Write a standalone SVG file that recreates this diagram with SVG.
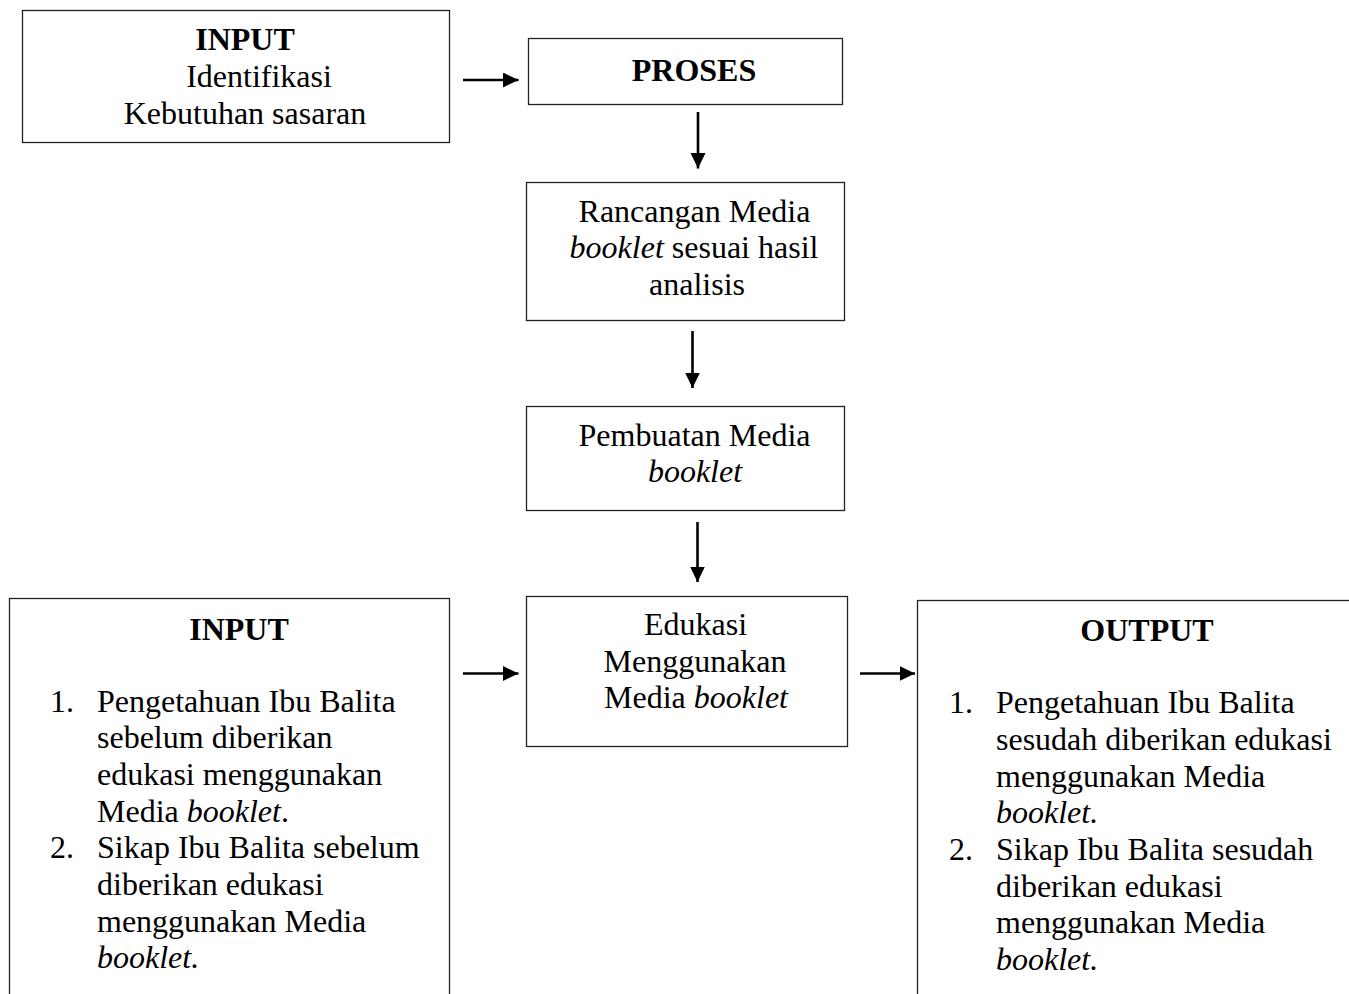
<svg xmlns="http://www.w3.org/2000/svg" width="1349" height="994" viewBox="0 0 1349 994">
<style>
.box{fill:#fff;stroke:#222;stroke-width:1.3}
.t{font-family:"Liberation Serif","Times New Roman",serif;font-size:32px;fill:#000}
.c{text-anchor:middle}
.b{font-weight:bold}
.i{font-style:italic}
.conn line{stroke:#000;stroke-width:2.6}
</style>
<defs>
<marker id="ah" markerUnits="userSpaceOnUse" markerWidth="17" markerHeight="16" refX="15.5" refY="7.5" orient="auto">
<path d="M0,0 L15.5,7.5 L0,15 z" fill="#000"/>
</marker>
</defs>
<rect width="1349" height="994" fill="#fff"/>
<g id="input-top">
<rect class="box" x="22.5" y="10.5" width="427" height="132"/>
<text class="t c b" x="245" y="50">INPUT</text>
<text class="t c" x="259" y="87">Identifikasi</text>
<text class="t c" x="245" y="124">Kebutuhan sasaran</text>
</g>
<g id="proses">
<rect class="box" x="528.5" y="38.5" width="314" height="66"/>
<text class="t c b" x="694" y="81">PROSES</text>
</g>
<g id="rancangan">
<rect class="box" x="526.5" y="182.5" width="318" height="138"/>
<text class="t c" x="694.5" y="222">Rancangan Media</text>
<text class="t c" x="694" y="258"><tspan class="i">booklet</tspan> sesuai hasil</text>
<text class="t c" x="697" y="295">analisis</text>
</g>
<g id="pembuatan">
<rect class="box" x="526.5" y="406.5" width="318" height="104"/>
<text class="t c" x="694.5" y="446">Pembuatan Media</text>
<text class="t c i" x="695" y="482">booklet</text>
</g>
<g id="edukasi">
<rect class="box" x="526.5" y="596.5" width="321" height="150"/>
<text class="t c" x="695.5" y="635">Edukasi</text>
<text class="t c" x="695" y="672">Menggunakan</text>
<text class="t c" x="696" y="708">Media <tspan class="i">booklet</tspan></text>
</g>
<g id="input-bottom">
<rect class="box" x="9.5" y="598.5" width="440" height="420"/>
<text class="t c b" x="239" y="640">INPUT</text>
<text class="t" x="50" y="712">1.</text>
<text class="t" x="97" y="712">Pengetahuan Ibu Balita</text>
<text class="t" x="97" y="748">sebelum diberikan</text>
<text class="t" x="97" y="785">edukasi menggunakan</text>
<text class="t" x="97" y="822">Media <tspan class="i">booklet</tspan>.</text>
<text class="t" x="50" y="858">2.</text>
<text class="t" x="97" y="858">Sikap Ibu Balita sebelum</text>
<text class="t" x="97" y="895">diberikan edukasi</text>
<text class="t" x="97" y="932">menggunakan Media</text>
<text class="t" x="97" y="968"><tspan class="i">booklet.</tspan></text>
</g>
<g id="output">
<rect class="box" x="917.5" y="600.5" width="440" height="420"/>
<text class="t c b" x="1147" y="641">OUTPUT</text>
<text class="t" x="949" y="713">1.</text>
<text class="t" x="996" y="713">Pengetahuan Ibu Balita</text>
<text class="t" x="996" y="750">sesudah diberikan edukasi</text>
<text class="t" x="996" y="787">menggunakan Media</text>
<text class="t" x="996" y="823"><tspan class="i">booklet.</tspan></text>
<text class="t" x="949" y="860">2.</text>
<text class="t" x="996" y="860">Sikap Ibu Balita sesudah</text>
<text class="t" x="996" y="897">diberikan edukasi</text>
<text class="t" x="996" y="933">menggunakan Media</text>
<text class="t" x="996" y="970"><tspan class="i">booklet.</tspan></text>
</g>
<g id="connectors" class="conn">
<line x1="463" y1="80" x2="518.5" y2="80" marker-end="url(#ah)"/>
<line x1="698" y1="112" x2="698" y2="168.5" marker-end="url(#ah)"/>
<line x1="692.5" y1="331" x2="692.5" y2="388" marker-end="url(#ah)"/>
<line x1="697.5" y1="522" x2="697.5" y2="582" marker-end="url(#ah)"/>
<line x1="463" y1="673.5" x2="518.5" y2="673.5" marker-end="url(#ah)"/>
<line x1="860" y1="673.5" x2="915" y2="673.5" marker-end="url(#ah)"/>
</g>
</svg>
